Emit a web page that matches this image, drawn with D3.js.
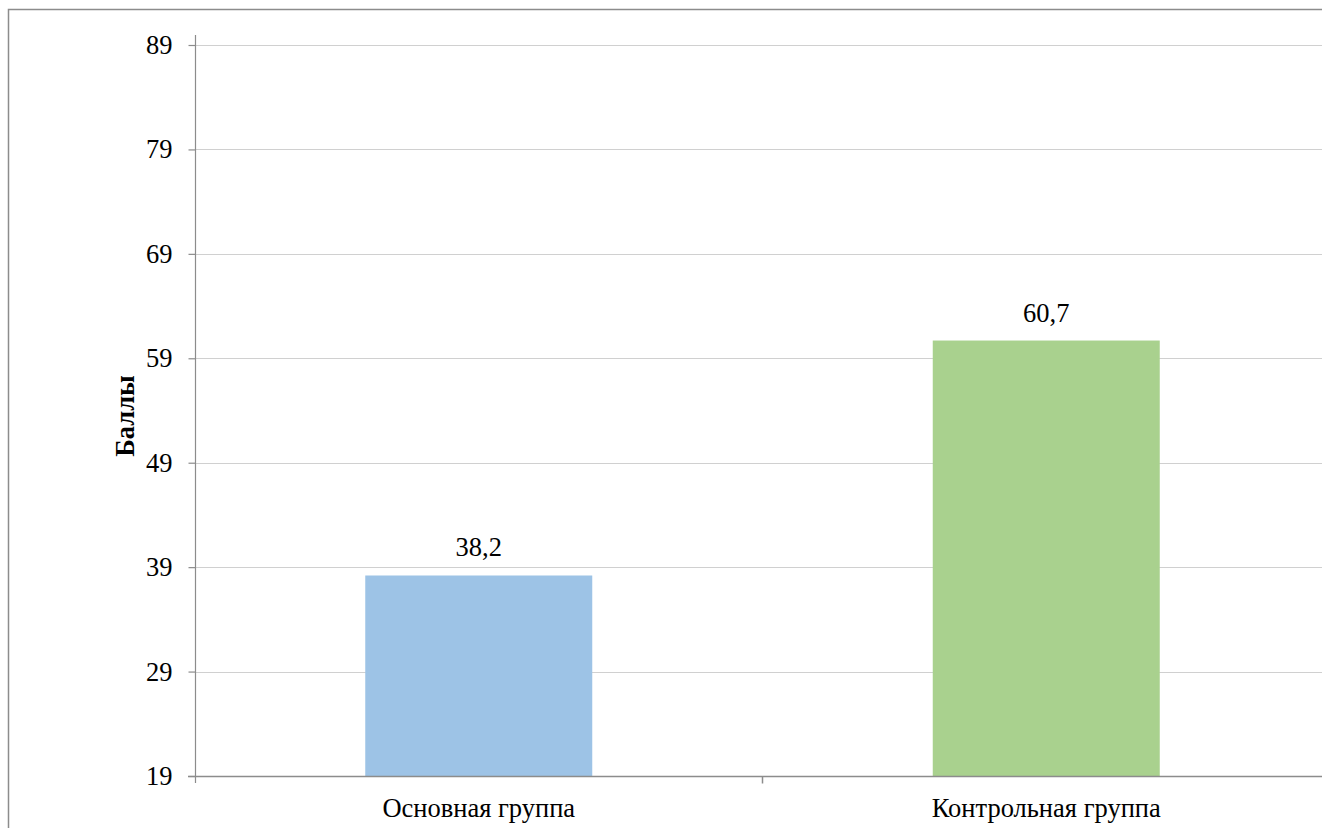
<!DOCTYPE html>
<html>
<head>
<meta charset="utf-8">
<script src="https://cdn.jsdelivr.net/npm/d3@7"></script>
<style>
  html, body { margin: 0; padding: 0; background: #fff; }
  svg { display: block; }
  text { font-family: "Liberation Serif", "Times New Roman", serif; fill: #000; }
</style>
</head>
<body>
<svg id="chart" width="1322" height="828"></svg>
<script>
// Data
const categories = ["Основная группа", "Контрольная группа"];
const values = [38.2, 60.7];
const valueLabels = ["38,2", "60,7"];
const yTicks = [19, 29, 39, 49, 59, 69, 79, 89];
const yTitle = "Баллы";
const barColors = ["#9dc3e6", "#a9d18e"];

const svg = d3.select("#chart");
const fontSize = 26.5;

// Plot area
const plotLeft = 195, plotRight = 1330, plotTop = 45, plotBottom = 776;

// Outer chart frame
svg.append("rect")
  .attr("x", 8.5).attr("y", 9.5)
  .attr("width", 1340).attr("height", 900)
  .attr("fill", "none").attr("stroke", "#8c8c8c").attr("stroke-width", 1.5);

const y = d3.scaleLinear().domain([19, 89]).range([plotBottom, plotTop]);
const x = d3.scaleBand().domain(categories).range([plotLeft, plotRight])
  .paddingInner(0.6).paddingOuter(0.3);

// Horizontal gridlines
svg.append("g")
  .selectAll("line")
  .data(yTicks.filter(t => t !== 19))
  .join("line")
  .attr("x1", plotLeft).attr("x2", plotRight)
  .attr("y1", d => Math.round(y(d)) + 0.5).attr("y2", d => Math.round(y(d)) + 0.5)
  .attr("stroke", "#d0d0d0").attr("stroke-width", 1);

// Bars
svg.append("g")
  .selectAll("rect")
  .data(values)
  .join("rect")
  .attr("x", (d, i) => x(categories[i]))
  .attr("y", d => y(d))
  .attr("width", x.bandwidth())
  .attr("height", d => y(19) - y(d))
  .attr("fill", (d, i) => barColors[i]);

// Value labels
svg.append("g")
  .selectAll("text")
  .data(values)
  .join("text")
  .attr("x", (d, i) => x(categories[i]) + x.bandwidth() / 2)
  .attr("y", d => y(d) - 19)
  .attr("text-anchor", "middle")
  .attr("font-size", fontSize)
  .text((d, i) => valueLabels[i]);

// Y axis
const yAxis = d3.axisLeft(y).tickValues(yTicks).tickSize(7).tickPadding(16).tickFormat(d3.format("d"));
const gy = svg.append("g").attr("transform", `translate(${plotLeft + 0.5},0)`).call(yAxis);
gy.select(".domain").remove();
gy.append("line").attr("x1", 0).attr("x2", 0).attr("y1", 35).attr("y2", plotBottom + 7)
  .attr("stroke", "#8c8c8c").attr("stroke-width", 1.2);
gy.selectAll(".tick line").attr("stroke", "#8c8c8c").attr("stroke-width", 1.2);
gy.selectAll(".tick text").attr("font-size", fontSize).attr("fill", "#000");

// X axis
const xAxis = d3.axisBottom(x).tickSize(0).tickPadding(22);
const gx = svg.append("g").attr("transform", `translate(0,${plotBottom + 0.5})`).call(xAxis);
gx.select(".domain").remove();
gx.append("line").attr("x1", plotLeft - 7).attr("x2", plotRight).attr("y1", 0).attr("y2", 0)
  .attr("stroke", "#8c8c8c").attr("stroke-width", 1.5);
// Category separator tick
const sepX = (x(categories[0]) + x.bandwidth() + x(categories[1])) / 2;
gx.append("line").attr("x1", sepX).attr("x2", sepX).attr("y1", 0).attr("y2", 7)
  .attr("stroke", "#8c8c8c").attr("stroke-width", 1.5);
gx.selectAll(".tick text").attr("font-size", fontSize).attr("fill", "#000");

// Y title
svg.append("text")
  .attr("transform", `translate(134,416) rotate(-90)`)
  .attr("text-anchor", "middle")
  .attr("font-size", fontSize)
  .attr("font-weight", "bold")
  .text(yTitle);
</script>
</body>
</html>
